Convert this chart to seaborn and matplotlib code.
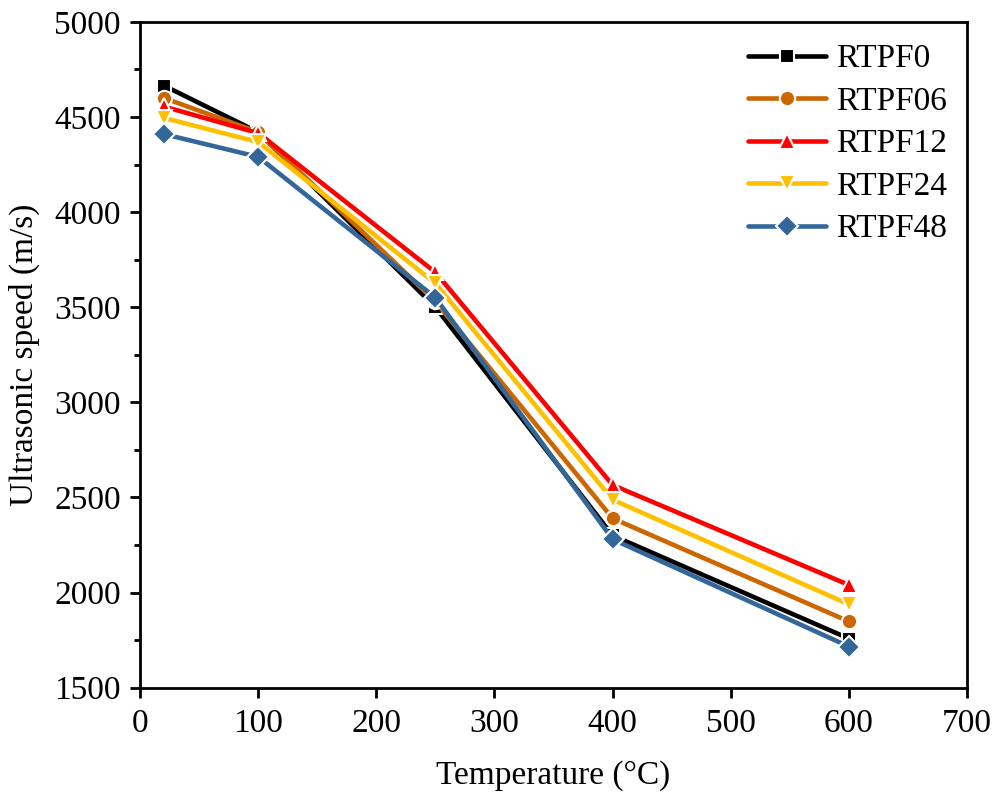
import matplotlib
matplotlib.use("Agg")
import matplotlib.pyplot as plt
from matplotlib.ticker import MultipleLocator
import seaborn as sns
import pandas as pd

temperature = [20, 100, 250, 400, 600]
series_names = ["RTPF0", "RTPF06", "RTPF12", "RTPF24", "RTPF48"]
rtpf0 = [4665, 4420, 3500, 2300, 1758]
rtpf06 = [4600, 4420, 3530, 2390, 1848]
rtpf12 = [4555, 4415, 3683, 2565, 2040]
rtpf24 = [4495, 4368, 3625, 2488, 1938]
rtpf48 = [4410, 4290, 3550, 2280, 1716]
values = [rtpf0, rtpf06, rtpf12, rtpf24, rtpf48]

colors = {"RTPF0": "#000000", "RTPF06": "#CC6600", "RTPF12": "#FF0000",
          "RTPF24": "#FFC000", "RTPF48": "#336699"}
markers = {"RTPF0": "s", "RTPF06": "o", "RTPF12": "^", "RTPF24": "v", "RTPF48": "D"}

rows = []
for name, vals in zip(series_names, values):
    for t, v in zip(temperature, vals):
        rows.append({"Temperature": t, "Speed": v, "Series": name})
df = pd.DataFrame(rows)

sns.set_style("ticks")
plt.rcParams["font.family"] = ["Liberation Serif", "DejaVu Serif"]
plt.rcParams["text.color"] = "black"
plt.rcParams["axes.labelcolor"] = "black"

fig = plt.figure(figsize=(10.01, 8.09), dpi=100)
ax = fig.add_axes([0.14, 0.150, 0.826, 0.823])

sizes = {"RTPF0": 10, "RTPF06": 11, "RTPF12": 12, "RTPF24": 12, "RTPF48": 11}
for name in series_names:
    sub = df[df["Series"] == name]
    sns.lineplot(data=sub, x="Temperature", y="Speed", ax=ax, color=colors[name],
                 marker=markers[name], markersize=sizes[name], linewidth=3.3,
                 markeredgecolor="white", markeredgewidth=1.5, label=name)

ax.set_xlim(0, 700)
ax.set_ylim(1500, 5000)
ax.xaxis.set_major_locator(MultipleLocator(100))
ax.yaxis.set_major_locator(MultipleLocator(500))
ax.yaxis.set_minor_locator(MultipleLocator(250))

for side in ["left", "bottom", "top", "right"]:
    ax.spines[side].set_visible(True)
    ax.spines[side].set_linewidth(2.0)
    ax.spines[side].set_color("black")

ax.tick_params(axis="both", which="major", direction="out", length=7, width=2,
               labelsize=24, colors="black", top=False, right=False)
ax.tick_params(axis="y", which="minor", direction="out", length=4, width=2, left=True,
               colors="black")
ax.tick_params(axis="x", pad=8)
ax.tick_params(axis="y", which="major", pad=7)

ax.set_xlabel("Temperature (°C)", fontsize=24, labelpad=15, color="black")
ax.set_ylabel("Ultrasonic speed (m/s)", fontsize=24, labelpad=10, color="black")

handles, labels = ax.get_legend_handles_labels()
leg = ax.legend(handles, labels, loc="upper right", frameon=False, fontsize=24,
                handlelength=2.35, labelspacing=0.36, handletextpad=0.3,
                borderaxespad=0.2, bbox_to_anchor=(1.0, 0.997))
for t in leg.get_texts():
    t.set_color("black")

fig.savefig("out.png", dpi=100)
